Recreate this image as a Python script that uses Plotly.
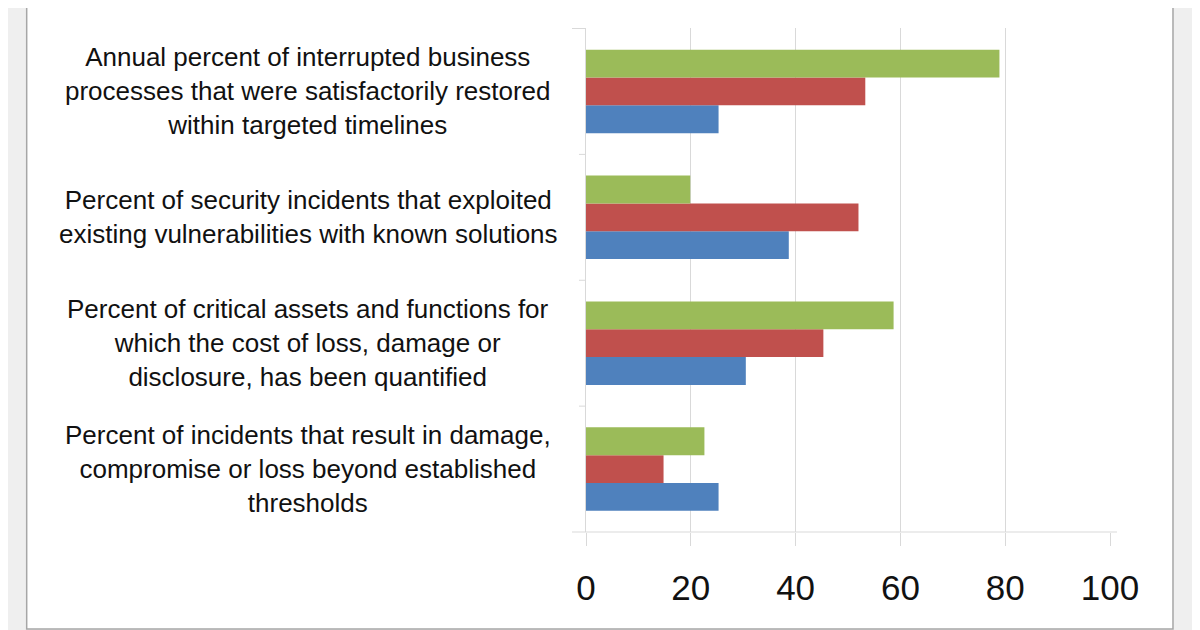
import plotly.graph_objects as go

# categories listed top to bottom as in the picture
categories = [
    "Annual percent of interrupted business<br>processes that were satisfactorily restored<br>within targeted timelines",
    "Percent of security incidents that exploited<br>existing vulnerabilities with known solutions",
    "Percent of critical assets and functions for<br>which the cost of loss, damage or<br>disclosure, has been quantified",
    "Percent of incidents that result in damage,<br>compromise or loss beyond established<br>thresholds",
]
series_blue = [25.3, 38.7, 30.5, 25.3]
series_red = [53.3, 52.0, 45.3, 14.8]
series_green = [78.9, 19.9, 58.7, 22.6]
x_ticks = [0, 20, 40, 60, 80, 100]

font = "Arial, Liberation Sans, sans-serif"
grid = "#d9d9d9"

fig = go.Figure()
for name, vals, color in [
    ("Series 1", series_blue, "#4f81bd"),
    ("Series 2", series_red, "#c0504d"),
    ("Series 3", series_green, "#9bbb59"),
]:
    fig.add_trace(go.Bar(
        y=categories, x=vals, name=name, orientation="h",
        marker=dict(color=color, line=dict(width=0)),
    ))

# white panel with grey border behind the chart
fig.add_shape(
    type="rect", xref="paper", yref="paper",
    x0=-1.0674, x1=1.1202, y0=-0.1925, y1=1.0536,
    fillcolor="white", line=dict(color="#a6a6a6", width=1.5),
    layer="below",
)

# bottom line, a bit longer than the plot
fig.add_shape(
    type="line", xref="paper", yref="paper",
    x0=-0.0267, x1=1.0134, y0=0, y1=0,
    line=dict(color=grid, width=1),
)

# category separators on the left
n = len(categories)
for i in range(n):
    pos = i + 0.5
    fig.add_shape(
        type="line", xref="paper", yref="y",
        x0=-0.0267 if i == n - 1 else -0.0134, x1=0, y0=pos, y1=pos,
        line=dict(color=grid, width=1),
    )

for cat in categories:
    fig.add_annotation(
        x=-0.5305, xref="paper", y=cat, yref="y",
        text=cat, showarrow=False, align="center",
        xanchor="center", yanchor="middle",
        font=dict(family=font, size=26, color="#111111"),
    )

# page has an 8px body margin, so the figure is 8px smaller
fig.update_layout(
    width=1192,
    height=622,
    margin=dict(l=578, r=90, t=20, b=98),
    paper_bgcolor="#efefef",
    plot_bgcolor="white",
    barmode="group",
    bargap=0.337,
    bargroupgap=0,
    showlegend=False,
    xaxis=dict(
        range=[0, 100],
        tickvals=x_ticks,
        showgrid=True,
        gridcolor=grid,
        gridwidth=1,
        zeroline=False,
        ticks="outside",
        ticklen=13,
        tickcolor=grid,
        ticklabelstandoff=12,
        tickfont=dict(family=font, size=35, color="#111111"),
    ),
    yaxis=dict(
        categoryorder="array",
        categoryarray=categories[::-1],
        showticklabels=False,
        showgrid=False,
        zeroline=False,
        showline=True,
        linecolor=grid,
        linewidth=1,
    ),
)

fig.write_html("out.html")
